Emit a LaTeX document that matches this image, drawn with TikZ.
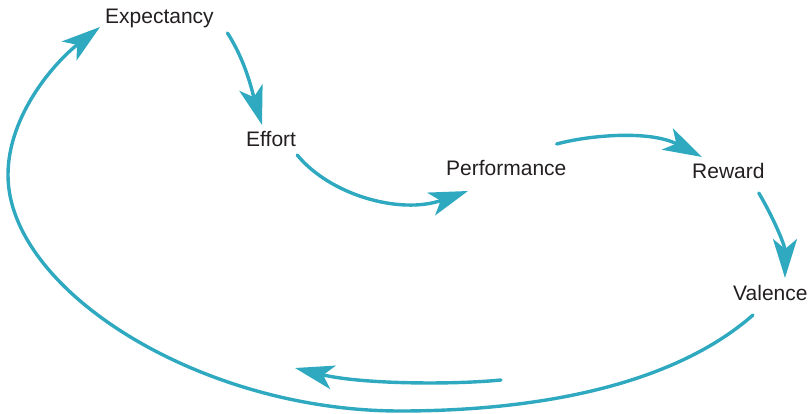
\documentclass[tikz,border=0pt]{standalone}
\usepackage{fontspec}
\setmainfont{Liberation Sans}
\usetikzlibrary{arrows.meta,calc}
\definecolor{loopblue}{RGB}{46,169,192}
\definecolor{inkgray}{RGB}{35,31,32}

\begin{document}
\begin{tikzpicture}[x=1pt,y=-1pt,line cap=round,
  stage/.style={anchor=base west,inner sep=0pt,text=inkgray,font=\fontsize{21}{25}\selectfont},
  flow/.style={draw=loopblue,line width=3.4pt,-{Stealth[length=39pt,width=24pt,inset=10pt]}}]
\useasboundingbox (0,0) rectangle (811,414);
% the five stages
\node[stage] (expectancy) at (105,24) {Expectancy};
\node[stage] (effort) at (246,147) {Effort};
\node[stage] (performance) at (446,176) {Performance};
\node[stage] (reward) at (692,179) {Reward};
\node[stage] (valence) at (733,300) {Valence};
% ends of the inner return arrow
\coordinate (backstart) at (501,380);
\coordinate (backend) at (295,368);
% arrows between stages
\draw[flow] ($(expectancy.base east)+(13.5,9)$) .. controls (246,62) and (252,91) .. ($(effort.base west)+(16,-22)$);
\draw[flow] ($(effort.base east)+(1,8)$) .. controls (330,195) and (400,215) .. ($(performance.base west)+(22,15)$);
\draw[flow] ($(performance.base east)+(-10,-32)$) .. controls (590,135) and (650,130) .. ($(reward.base west)+(10,-22)$);
\draw[flow] ($(reward.base east)+(-6,14)$) .. controls (772,215) and (785,245) .. ($(valence.base west)+(52,-22)$);
% the long way back
\draw[flow] ($(valence.base west)+(20,15)$) .. controls (670,388) and (530,411) .. (400,411)
  .. controls (200,411) and (8,290) .. (8,175)
  .. controls (8,115) and (55,62) .. ($(expectancy.base west)+(-5,3)$);
\draw[flow] (backstart) .. controls (450,385) and (360,384) .. (backend);
\end{tikzpicture}
\end{document}
